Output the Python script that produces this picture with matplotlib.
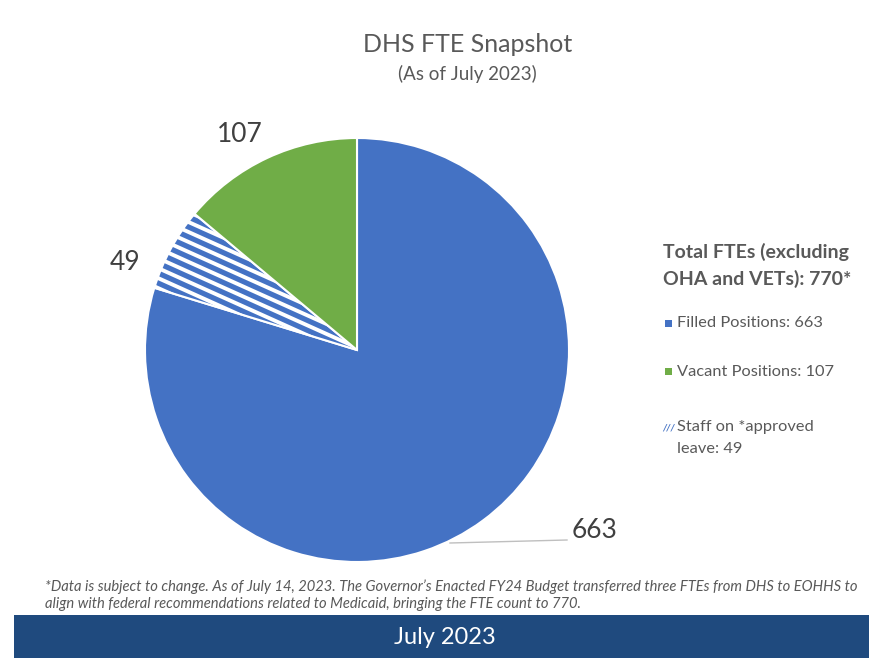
import numpy as np
import matplotlib.pyplot as plt
from matplotlib.patches import Rectangle

# FTE counts as of July 2023
filled = 663
vacant = 107
on_leave = 49
total = 770

# the leave slice is carved out of the filled positions
sizes = [filled - on_leave, on_leave, vacant]
labels = ['663', '49', '107']
legend_text = ['Filled Positions: 663', 'Vacant Positions: 107',
               'Staff on *approved', 'leave: 49']

blue = '#4472C4'
green = '#70AD47'
grey = '#595959'
band = '#1F4A7E'

plt.rcParams['font.family'] = ['Lato', 'DejaVu Sans']

W, H = 870, 658
fig = plt.figure(figsize=(W/100, H/100), dpi=100)
fig.patch.set_facecolor('white')

# pie axes placed in pixel terms: centre (357, 350), radius 212
cx, cy, r = 357, 350, 212
ax = fig.add_axes([(cx - r)/W, 1 - (cy + r)/H, 2*r/W, 2*r/H])
wedges, _ = ax.pie(sizes, startangle=90, counterclock=False,
                   colors=[blue, blue, green],
                   wedgeprops=dict(linewidth=1.5, edgecolor='white'))
ax.set_xlim(-1, 1)
ax.set_ylim(-1, 1)
ax.set_aspect('equal')

# wide downward-diagonal stripes on the leave slice
xs = np.array([-1.1, 0.1])
for b in np.arange(-0.6, 0.8, 0.047):
    ln, = ax.plot(xs, b - 0.45*xs, color='white', lw=2.8, solid_capstyle='butt')
    ln.set_clip_path(wedges[1])


def px(x, y):
    return (x - cx)/r, (cy - y)/r


# data labels
for lab, (x, y) in zip(labels, [(595, 530), (125, 262), (240, 135)]):
    ax.text(*px(x, y), lab, fontsize=19, color='#404040',
            ha='center', va='center')
(x0, y0), (x1, y1) = px(450, 543), px(567, 540)
ax.plot([x0, x1], [y0, y1], color='#BFBFBF', lw=1, clip_on=False)

# titles
fig.text(468/W, 1 - 45/H, 'DHS FTE Snapshot', fontsize=18, color=grey,
         ha='center', va='center')
fig.text(467/W, 1 - 74/H, '(As of July 2023)', fontsize=13.5, color=grey,
         ha='center', va='center')

# legend block
fig.text(663/W, 1 - 252/H, 'Total FTEs (excluding', fontsize=14,
         fontweight='bold', color=grey, va='center')
fig.text(663/W, 1 - 279/H, 'OHA and VETs): 770*', fontsize=14,
         fontweight='bold', color=grey, va='center')
for txt, ypx in zip(legend_text, [323, 372, 427, 449]):
    fig.text(677/W, 1 - ypx/H, txt, fontsize=11.8, color=grey, va='center')
for c, ypx in [(blue, 323), (green, 372)]:
    fig.patches.append(Rectangle((665/W, 1 - (ypx + 3.5)/H), 7/W, 7/H,
                                 transform=fig.transFigure, facecolor=c,
                                 edgecolor='none'))
# hatched marker for the leave entry
fig.text(669/W, 1 - 428/H, '///', fontsize=7, color=blue, fontweight='bold',
         fontstyle='italic', ha='center', va='center')

# footnote
note = ("*Data is subject to change. As of July 14, 2023. The Governor\u2019s "
        "Enacted FY24 Budget transferred three FTEs from DHS to EOHHS to\n"
        "align with federal recommendations related to Medicaid, bringing "
        "the FTE count to 770.")
fig.text(45/W, 1 - 595/H, note, fontsize=10.6, color=grey, style='italic',
         va='center', linespacing=1.3)

# bottom band
fig.patches.append(Rectangle((14/W, 0), 1 - 14/W, 43/H,
                             transform=fig.transFigure, facecolor=band,
                             edgecolor='none'))
fig.text(445/W, 1 - 637/H, 'July 2023', fontsize=17, color='white',
         ha='center', va='center')

fig.savefig('out.png', dpi=100)
